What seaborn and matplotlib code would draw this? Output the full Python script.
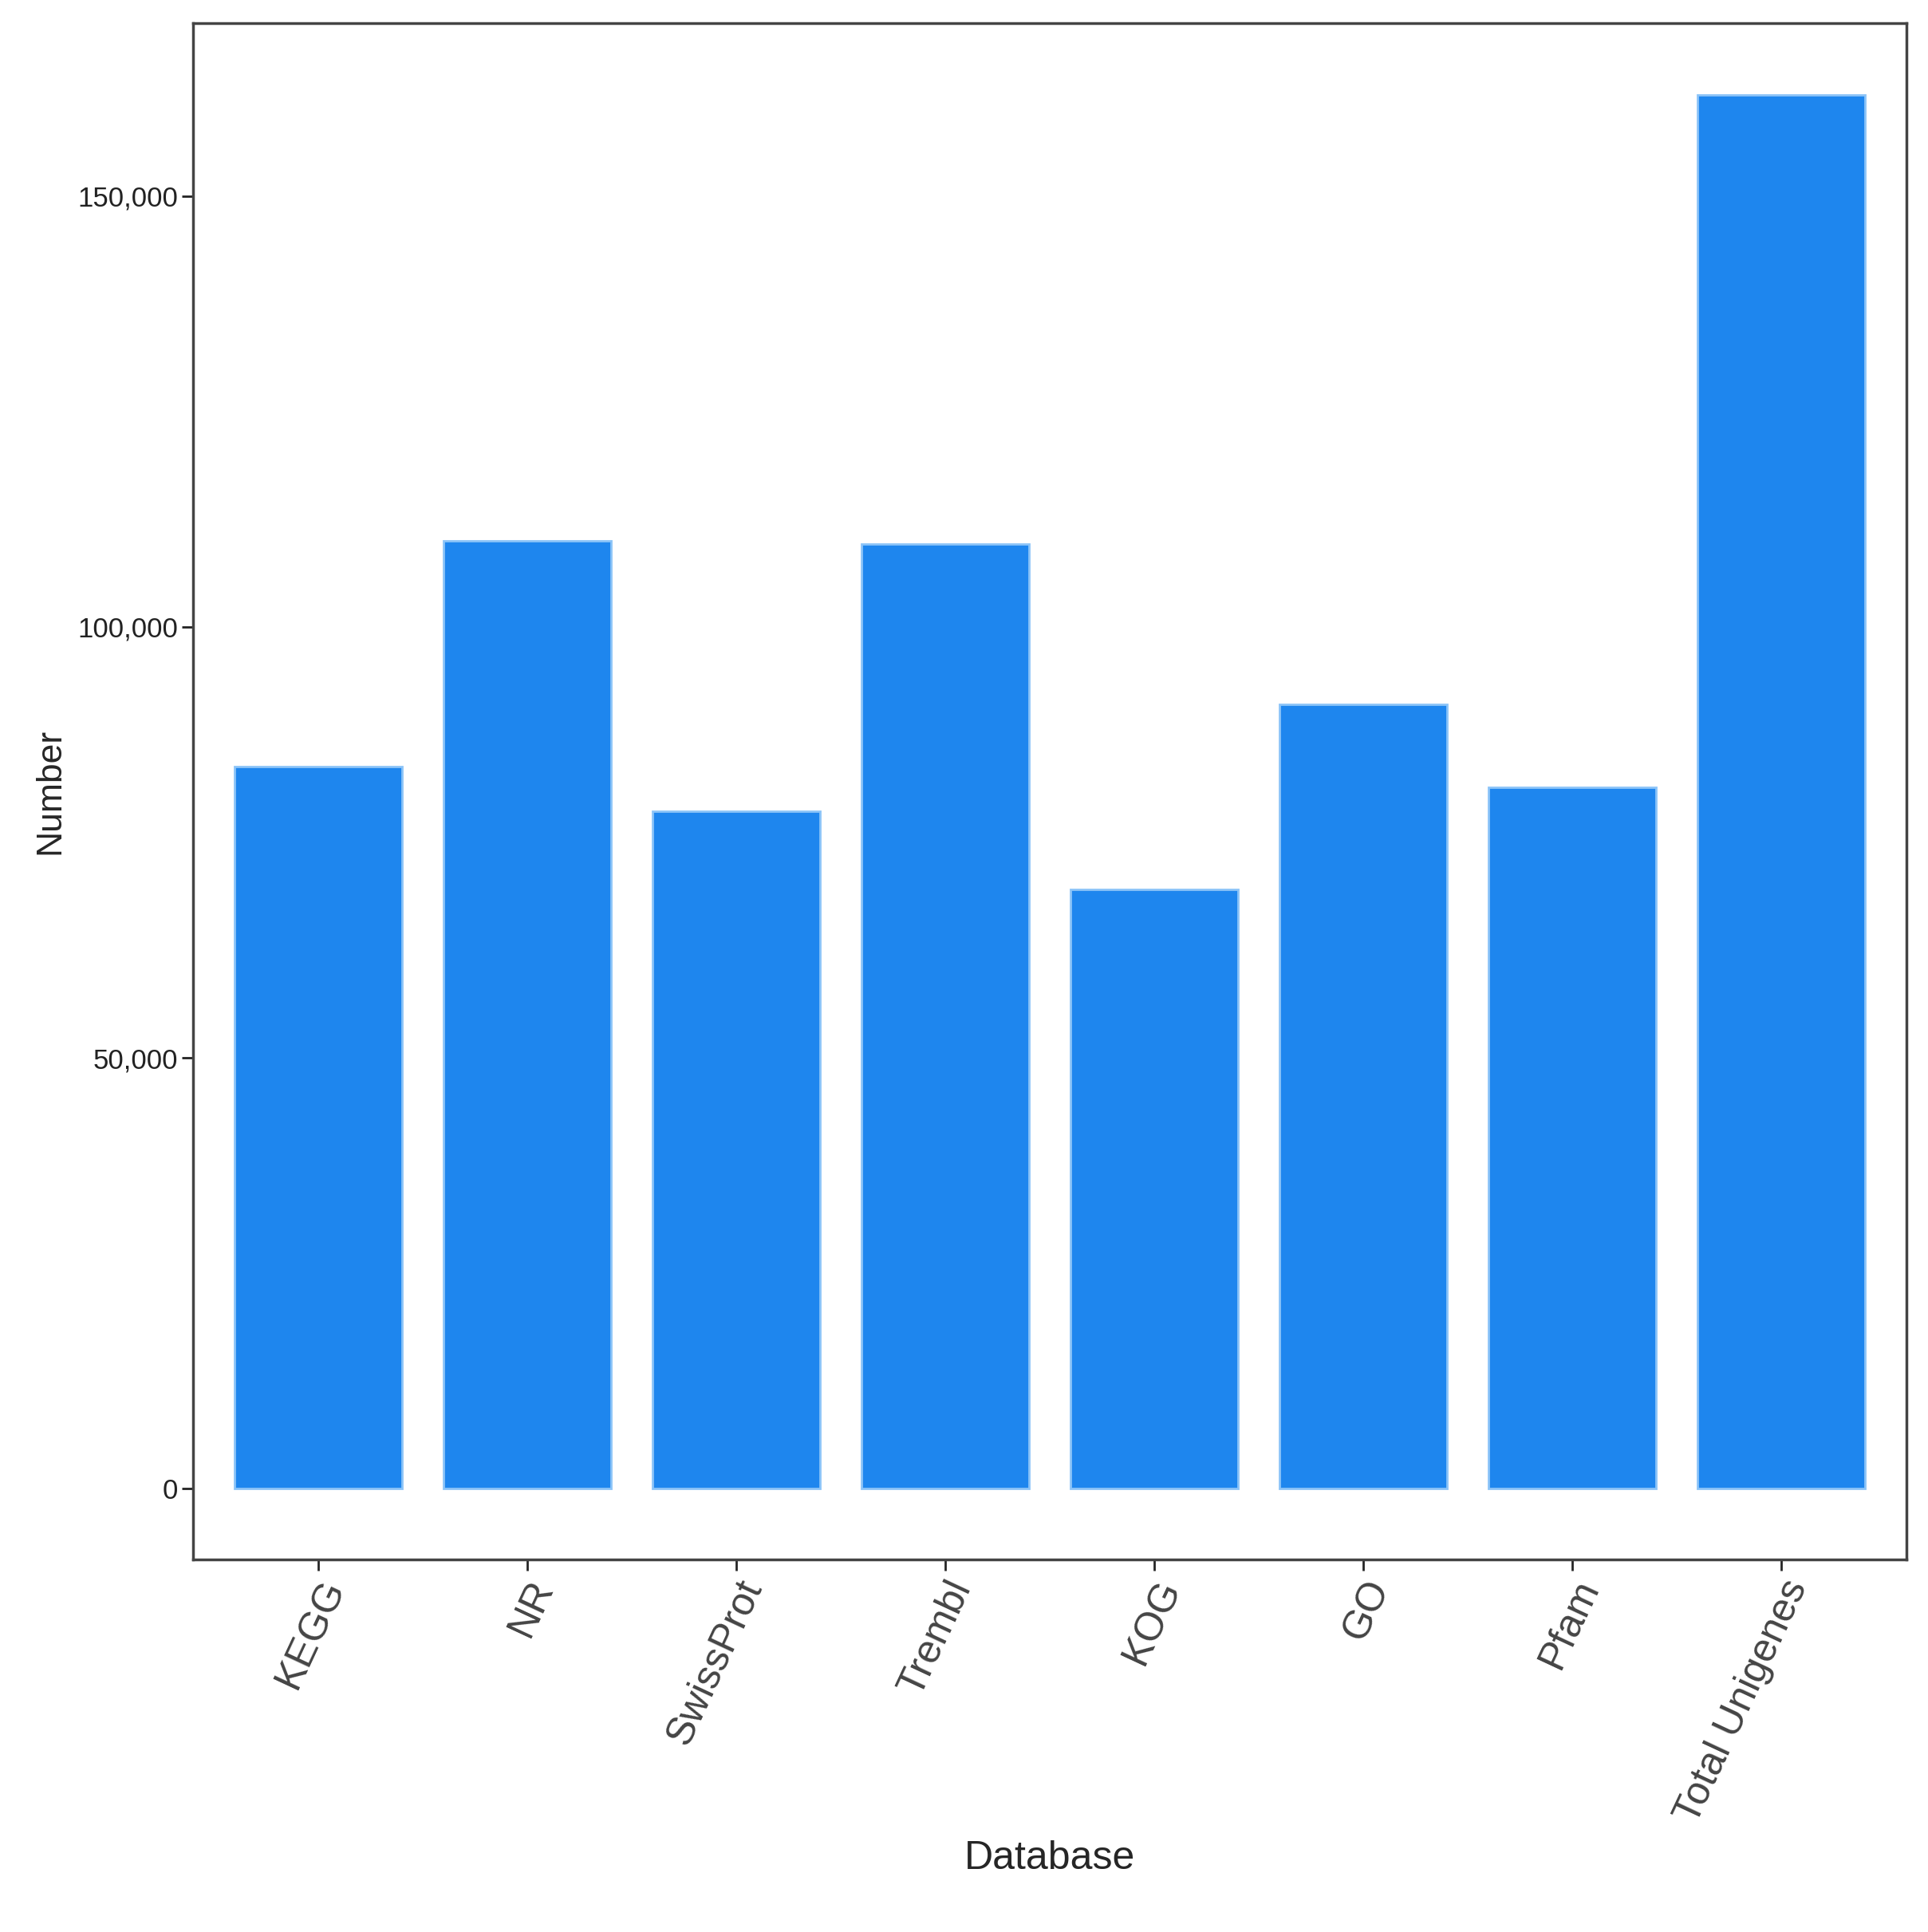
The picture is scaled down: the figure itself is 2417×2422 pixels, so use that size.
import matplotlib
matplotlib.use('Agg')
import matplotlib.pyplot as plt
import seaborn as sns
import pandas as pd
from matplotlib.ticker import FuncFormatter

databases = ['KEGG', 'NR', 'SwissProt', 'Trembl', 'KOG', 'GO', 'Pfam', 'Total Unigenes']
numbers = [83800, 110000, 78650, 109600, 69500, 91000, 81400, 161750]
df = pd.DataFrame({'Database': databases, 'Number': numbers})

sns.set_style('white')
plt.rcParams['font.family'] = ['Liberation Sans', 'DejaVu Sans']

fig = plt.figure(figsize=(24.17, 24.22), dpi=100)
ax = fig.add_axes([0.1, 0.193, 0.889, 0.795])
sns.barplot(data=df, x='Database', y='Number', color='#1E86EE', saturation=1,
            width=0.8, edgecolor='#8CC4F8', linewidth=2, ax=ax)
ax.set_ylim(-8170, 170060)
ax.set_xlim(-0.6, 7.6)
ax.set_yticks([0, 50000, 100000, 150000])
ax.yaxis.set_major_formatter(FuncFormatter(lambda v, p: f'{int(v):,}'))
ax.tick_params(axis='y', labelsize=25, length=10, width=2, left=True, colors='#222222')
ax.tick_params(axis='x', labelsize=36, length=10, width=2, bottom=True, labelcolor='#444444')
plt.setp(ax.get_xticklabels(), rotation=65, ha='right', rotation_mode='anchor')
ax.set_xlabel('Database', fontsize=36, labelpad=10)
ax.set_ylabel('Number', fontsize=32, labelpad=10)
for s in ax.spines.values():
    s.set_color('#444444')
    s.set_linewidth(2.5)
fig.savefig('out.png', dpi=100, facecolor='white')
